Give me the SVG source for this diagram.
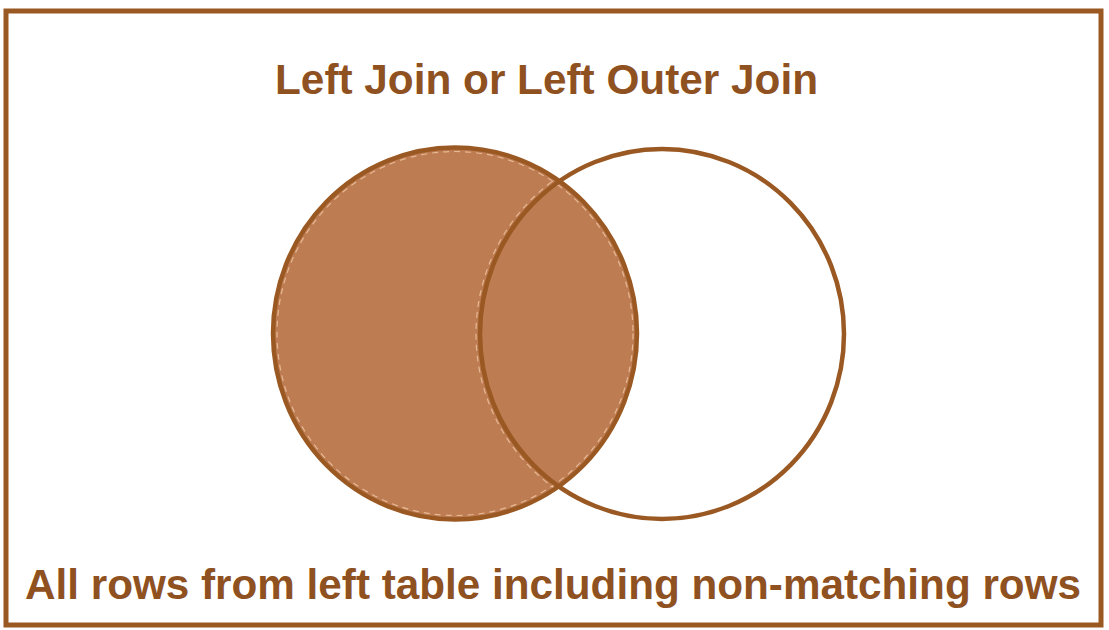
<svg xmlns="http://www.w3.org/2000/svg" width="1109" height="630" viewBox="0 0 1109 630">
  <style>
    .lbl { font-family: "Liberation Sans", Arial, sans-serif; font-weight: bold; fill: #8e511f; }
    .ring { fill: none; stroke: #9a5822; stroke-width: 4.5; }
    .dash { fill: none; stroke: #f0c8a4; stroke-width: 1.2; stroke-dasharray: 6 5; opacity: 0.8; }
  </style>
  <defs>
    <clipPath id="leftClip">
      <ellipse cx="455" cy="333.5" rx="182" ry="186"/>
    </clipPath>
  </defs>
  <rect x="0" y="0" width="1109" height="630" fill="#ffffff"/>
  <rect id="frame" x="6" y="11" width="1095" height="614" fill="none" stroke="#9a5822" stroke-width="5"/>
  <g id="title">
    <text class="lbl" x="546.5" y="94" font-size="42" text-anchor="middle" textLength="543" lengthAdjust="spacingAndGlyphs">Left Join or Left Outer Join</text>
  </g>
  <g id="left-table">
    <ellipse cx="455" cy="333.5" rx="182" ry="186" fill="#be7c53"/>
    <ellipse class="dash" cx="455" cy="333.5" rx="178" ry="182"/>
  </g>
  <g id="right-table">
    <ellipse class="dash" cx="662" cy="334" rx="186" ry="189" clip-path="url(#leftClip)"/>
    <ellipse class="ring" cx="662" cy="334" rx="182" ry="185"/>
  </g>
  <g id="connectors">
    <ellipse class="ring" cx="455" cy="333.5" rx="182" ry="186"/>
  </g>
  <g id="caption">
    <text class="lbl" x="553" y="599" font-size="43" text-anchor="middle" textLength="1056" lengthAdjust="spacingAndGlyphs">All rows from left table including non-matching rows</text>
  </g>
</svg>
